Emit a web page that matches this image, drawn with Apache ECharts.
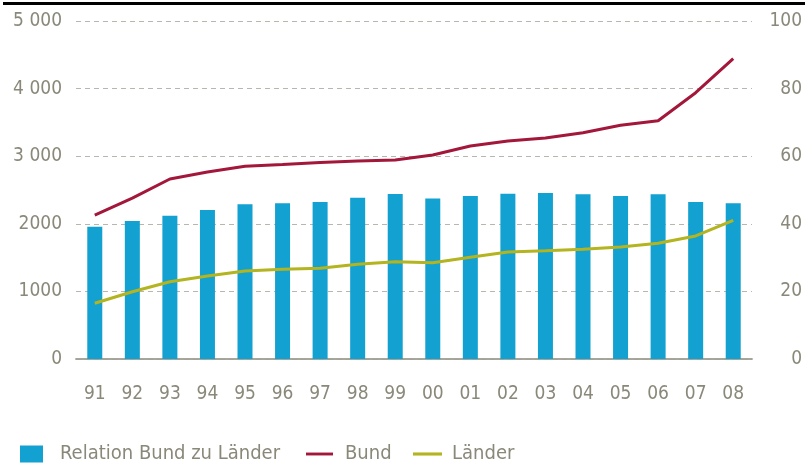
<!DOCTYPE html>
<html>
<head>
<meta charset="utf-8">
<script src="https://cdn.jsdelivr.net/npm/echarts@6/dist/echarts.min.js"></script>
<style>
  html, body { margin: 0; padding: 0; background: #fff; }
  #main { width: 807px; height: 464px; }
</style>
</head>
<body>
<div id="main"></div>
<script>
// Jahre
var years = ["91", "92", "93", "94", "95", "96", "97", "98", "99", "00", "01", "02", "03", "04", "05", "06", "07", "08"]
// Säulen (linke Achse)
var relation = [1957, 2041, 2120, 2204, 2288, 2303, 2322, 2386, 2441, 2374, 2411, 2445, 2456, 2436, 2411, 2436, 2322, 2303]
// Linien
var bund = [2130, 2380, 2663, 2766, 2850, 2877, 2907, 2929, 2944, 3018, 3150, 3225, 3270, 3348, 3457, 3525, 3939, 4442]
var laender = [824, 995, 1143, 1228, 1302, 1327, 1342, 1401, 1440, 1425, 1504, 1583, 1602, 1622, 1657, 1711, 1820, 2052]
// Achsenbeschriftung
var leftTicks = ["0", "1000", "2000", "3 000", "4 000", "5 000"]
var rightTicks = ["0", "20", "40", "60", "80", "100"]

var fontFam = "'DejaVu Sans Condensed', sans-serif"
var grey = "#8a8879"
var axisGrey = "#a3a195"
var lineIcon = "path://M0,0 L28,0 L28,3 L0,3 Z"

function legendBox(left, name, icon, w, pad) {
  return {
    left: left, top: 439,
    itemWidth: w, itemHeight: 17,
    icon: icon,
    data: [name],
    textStyle: { color: grey, fontSize: 20, fontFamily: fontFam, padding: [0, 0, 0, pad] }
  }
}

var myChart = echarts.init(document.getElementById("main"))
var option = {
  animation: false,
  graphic: [
    { type: "rect", left: 3, top: 2, shape: { width: 802, height: 3 }, style: { fill: "#000" } }
  ],
  grid: { left: 76, right: 55, top: 21, bottom: 105 },
  legend: [
    legendBox(15, "Relation Bund zu Länder", "rect", 23, 12),
    legendBox(301, "Bund", lineIcon, 27, 7),
    legendBox(408, "Länder", lineIcon, 29, 5)
  ],
  xAxis: [
    {
      type: "category",
      data: years,
      axisLine: { lineStyle: { color: axisGrey, width: 1.5 } },
      axisTick: { alignWithLabel: false, length: 17, lineStyle: { color: axisGrey, width: 1.5 } },
      axisLabel: { color: grey, fontSize: 19, fontFamily: fontFam, margin: 26 }
    },
    {
      type: "category",
      position: "top",
      data: years,
      axisLine: { lineStyle: { color: axisGrey, width: 1.5 } },
      axisTick: { show: false },
      axisLabel: { show: false }
    }
  ],
  yAxis: [
    {
      type: "value",
      min: 0, max: 5000, interval: 1000,
      axisLine: { show: false },
      axisTick: { show: false },
      axisLabel: {
        color: grey, fontSize: 19, fontFamily: fontFam, margin: 14,
        formatter: function (v) { return leftTicks[Math.round(v / 1000)] }
      },
      splitLine: { lineStyle: { color: "#b8b7ae", type: [5, 4], width: 1.2 } }
    },
    {
      type: "value",
      min: 0, max: 100, interval: 20,
      axisLine: { show: false },
      axisTick: { show: false },
      axisLabel: {
        color: grey, fontSize: 19, fontFamily: fontFam, margin: 50, align: "right",
        formatter: function (v) { return rightTicks[Math.round(v / 20)] }
      },
      splitLine: { show: false }
    }
  ],
  series: [
    {
      name: "Relation Bund zu Länder",
      type: "bar",
      data: relation,
      barWidth: 15,
      itemStyle: { color: "#12a1d0" }
    },
    {
      name: "Bund",
      type: "line",
      data: bund,
      symbol: "none",
      lineStyle: { color: "#a3173a", width: 3 },
      itemStyle: { color: "#a3173a" }
    },
    {
      name: "Länder",
      type: "line",
      data: laender,
      symbol: "none",
      lineStyle: { color: "#b3b41f", width: 3 },
      itemStyle: { color: "#b3b41f" }
    }
  ]
}
myChart.setOption(option)
</script>
</body>
</html>
